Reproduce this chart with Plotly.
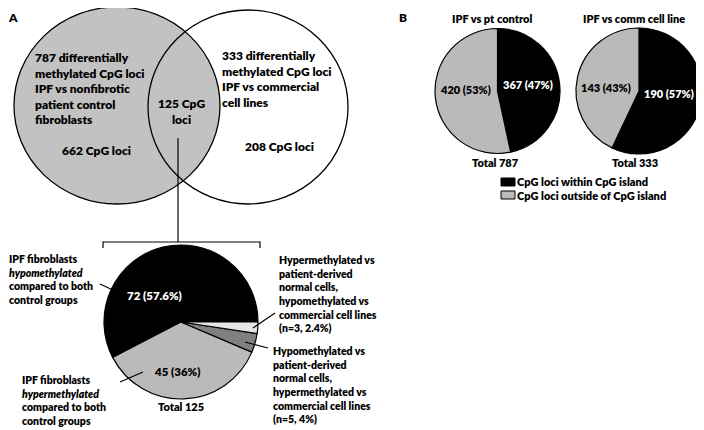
import plotly.graph_objects as go

# page body adds an 8px margin; figure fills the rest of the 704x430 window
OFF = 8
FW, FH = 704 - OFF, 430 - OFF

# ---- data ----
overlap_labels = ["hypo both", "hyper both", "hypo pt / hyper comm", "hyper pt / hypo comm"]
overlap_values = [72, 45, 5, 3]
overlap_text = ["72 (57.6%)", "45 (36%)"]
overlap_total = 125

b_categories = ["CpG loci within CpG island", "CpG loci outside of CpG island"]
b_pt_values = [367, 420]
b_pt_text = ["367 (47%)", "420 (53%)"]
b_comm_values = [190, 143]
b_comm_text = ["190 (57%)", "143 (43%)"]
b_titles = ["IPF vs pt control", "IPF vs comm cell line"]

venn_left_total = 787
venn_right_total = 333
venn_left_only = 662
venn_right_only = 208
venn_both = 125

# ---- styling ----
FONT = "Lato"
WEIGHT = 800
BLACK = "#000000"
GRAY = "#bababa"
VENN_GRAY = "#c2c2c2"
DARK = "#808080"
LIGHT = "#e6e6e6"
DX = -3  # left-anchored text inset correction


def px(x):
    return (x - OFF) / FW


def py(y):
    return 1 - (y - OFF) / FH


def dom(x0, x1, y0, y1):
    return dict(x=[px(x0), px(x1)], y=[py(y1), py(y0)])


fig = go.Figure()

# first slice sweeps counterclockwise from 3 o'clock
first_angle = 360 * overlap_values[0] / sum(overlap_values)
fig.add_trace(go.Pie(
    values=overlap_values, labels=overlap_labels, sort=False,
    direction="counterclockwise", rotation=90 - first_angle,
    marker=dict(colors=[BLACK, GRAY, DARK, LIGHT], line=dict(color=BLACK, width=1.2)),
    textinfo="none", hoverinfo="skip", showlegend=False,
    domain=dom(104, 258, 245, 399),
))
fig.add_trace(go.Pie(
    values=b_pt_values, labels=b_categories, sort=False,
    direction="clockwise", rotation=0,
    marker=dict(colors=[BLACK, GRAY], line=dict(color=BLACK, width=1.2)),
    textinfo="none", hoverinfo="skip", showlegend=False,
    domain=dom(435, 560, 28.5, 153.5),
))
fig.add_trace(go.Pie(
    values=b_comm_values, labels=b_categories, sort=False,
    direction="clockwise", rotation=0,
    marker=dict(colors=[BLACK, GRAY], line=dict(color=BLACK, width=1.2)),
    textinfo="none", hoverinfo="skip", showlegend=False,
    domain=dom(576, 702, 28, 154),
))

shapes = []


def circle(x0, y0, x1, y1, fill):
    shapes.append(dict(type="circle", xref="paper", yref="paper",
                       x0=px(x0), x1=px(x1), y0=py(y1), y1=py(y0),
                       fillcolor=fill, line=dict(color=BLACK, width=1.3), layer="below"))


def line(x0, y0, x1, y1, w=1.2):
    shapes.append(dict(type="line", xref="paper", yref="paper",
                       x0=px(x0), y0=py(y0), x1=px(x1), y1=py(y1),
                       line=dict(color=BLACK, width=w)))


def rect(x0, y0, x1, y1, fill):
    shapes.append(dict(type="rect", xref="paper", yref="paper",
                       x0=px(x0), y0=py(y1), x1=px(x1), y1=py(y0),
                       fillcolor=fill, line=dict(color=BLACK, width=1)))


circle(14, 7, 220, 204, VENN_GRAY)
circle(148, 10, 348, 204, "rgba(0,0,0,0)")
line(178, 138, 178, 242)
line(103, 242, 260, 242)
line(103, 241.5, 103, 248)
line(260, 241.5, 260, 248)
line(100, 284, 115, 291)
line(120, 382, 143, 372)
line(275, 313, 253, 328)
line(268, 348, 245, 342)
rect(501, 178, 515, 186, BLACK)
rect(501, 191, 515, 199, GRAY)

ann = []


def text(x, y, s, xanchor="center", color=BLACK, size=12, yanchor="middle"):
    if xanchor == "left":
        x = x + DX
    ann.append(dict(xref="paper", yref="paper", x=px(x), y=py(y), text=s,
                    showarrow=False, xanchor=xanchor, yanchor=yanchor,
                    align="left" if xanchor == "left" else "center",
                    font=dict(family=FONT, size=size, color=color, weight=WEIGHT)))


def block(x, yc, lines, xanchor="left", size=12):
    text(x, yc, "<br>".join(lines), xanchor, size=size)


text(OFF + 1, OFF, "A", "left", size=12, yanchor="top")
text(400, OFF, "B", "left", size=12, yanchor="top")

block(36, 88.3,
      [f"{venn_left_total} differentially", "methylated CpG loci", "IPF vs nonfibrotic",
       "patient control", "fibroblasts"])
text(96, 150, f"{venn_left_only} CpG loci", size=12)
block(181, 111.7, [f"{venn_both} CpG", "loci"], "center")
block(223, 79.2,
      [f"{venn_right_total} differentially", "methylated CpG loci", "IPF vs commercial",
       "cell lines"])
text(279, 146.7, f"{venn_right_only} CpG loci", size=12)

block(OFF + 2, 279.7,
      ["IPF fibroblasts", "<i>hypomethylated</i>", "compared to both", "control groups"], size=10.5)
block(23, 400.5,
      ["IPF fibroblasts", "<i>hypermethylated</i>", "compared to both", "control groups"], size=10.5)
block(280, 293.6,
      ["Hypermethylated vs", "patient-derived", "normal cells,", "hypomethylated vs",
       "commercial cell lines", f"(n={overlap_values[3]}, 2.4%)"], size=10.5)
block(274, 385,
      ["Hypomethylated vs", "patient-derived", "normal cells,", "hypermethylated vs",
       "commercial cell lines", f"(n={overlap_values[2]}, 4%)"], size=10.5)

text(154, 295, overlap_text[0], color="white", size=11.5)
text(177, 371, overlap_text[1], size=11.5)
text(181, 406, f"Total {overlap_total}", size=11)

text(492, 18, b_titles[0], size=11)
text(634, 18, b_titles[1], size=11)
text(528, 85, b_pt_text[0], color="white", size=11)
text(465, 89, b_pt_text[1], size=11)
text(495, 162, f"Total {sum(b_pt_values)}", size=11)
text(669, 93, b_comm_text[0], color="white", size=11)
text(606, 88, b_comm_text[1], size=11)
text(635, 163, f"Total {sum(b_comm_values)}", size=11)

text(518, 182, b_categories[0], "left", size=11)
text(518, 195, b_categories[1], "left", size=11)

fig.update_layout(
    width=FW, height=FH, margin=dict(l=0, r=0, t=0, b=0),
    paper_bgcolor="white", plot_bgcolor="white",
    shapes=shapes, annotations=ann, showlegend=False,
    font=dict(family=FONT, size=12, color=BLACK),
)

fig.write_html("out.html")
